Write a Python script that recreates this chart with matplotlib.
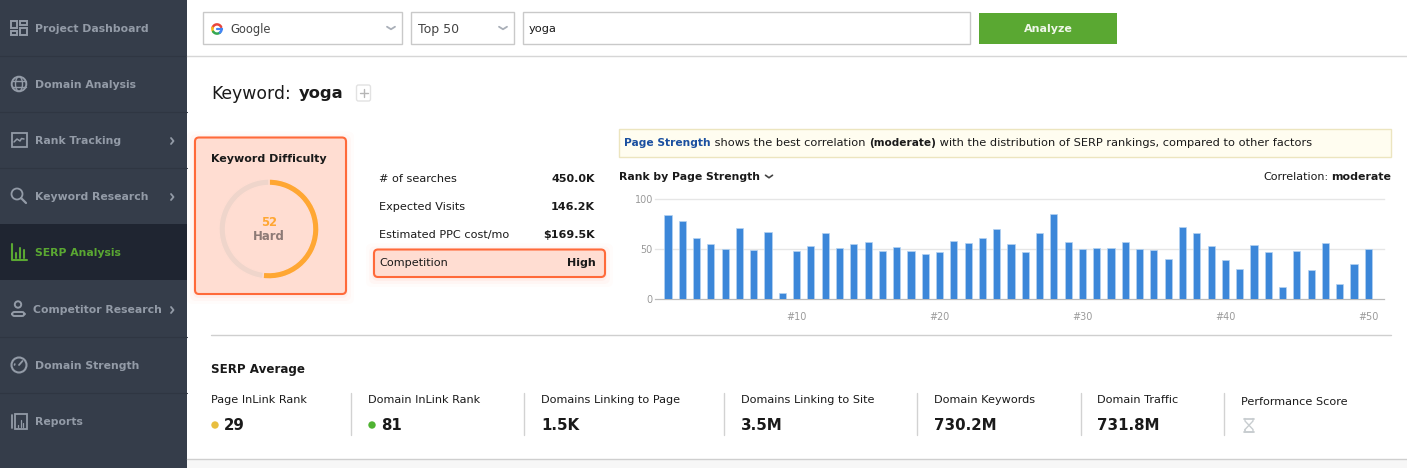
import matplotlib
matplotlib.use("Agg")
from matplotlib import pyplot as plt
from matplotlib.patches import FancyBboxPatch, Rectangle, Circle, Ellipse
import numpy as np

W, H = 1407, 468

# chart values
ranks = np.arange(1, 51)
page_strength = [84, 78, 61, 55, 50, 71, 49, 67, 6.5, 48,
                 53, 66, 51, 55, 57, 48, 52, 48, 45, 47,
                 58, 56, 61, 70, 55, 47, 66, 85, 57, 50,
                 51, 51, 57, 50, 49, 40, 72, 66, 53, 39,
                 30, 54, 47, 12, 48, 29, 56, 15, 35, 50]
x_ticks = [10, 20, 30, 40, 50]
y_ticks = [0, 50, 100]
difficulty = 52

menu_items = ["Project Dashboard", "Domain Analysis", "Rank Tracking", "Keyword Research",
              "SERP Analysis", "Competitor Research", "Domain Strength", "Reports"]
stat_names = ["# of searches", "Expected Visits", "Estimated PPC cost/mo", "Competition"]
stat_values = ["450.0K", "146.2K", "$169.5K", "High"]
metric_names = ["Page InLink Rank", "Domain InLink Rank", "Domains Linking to Page",
                "Domains Linking to Site", "Domain Keywords", "Domain Traffic", "Performance Score"]
metric_values = ["29", "81", "1.5K", "3.5M", "730.2M", "731.8M", ""]

SIDE = "#353d4a"
SIDE_DARK = "#1f2531"
SIDE_TXT = "#939ba7"
GREEN = "#5aa832"
ORANGE = "#ff6a3a"
PEACH = "#ffddd2"
INK = "#1a1a1a"

fig = plt.figure(figsize=(W / 100, H / 100), dpi=100, facecolor="white")
ui = fig.add_axes([0, 0, 1, 1])
ui.set_xlim(0, W)
ui.set_ylim(H, 0)
ui.axis("off")


def rect(x0, y0, x1, y1, fc="none", ec="none", lw=1, z=1):
    ui.add_patch(Rectangle((x0, y0), x1 - x0, y1 - y0, fc=fc, ec=ec, lw=lw, zorder=z))


def line(xs, ys, color, lw=1.2, z=5):
    ui.plot(xs, ys, color=color, lw=lw, zorder=z, solid_capstyle="round", solid_joinstyle="round")


def arc(cx, cy, r, a0, a1, color, lw=1.2):
    a = np.radians(np.linspace(a0, a1, 40))
    line(cx + r * np.cos(a), cy - r * np.sin(a), color, lw)


def txt(x, y, s, size=8, color=INK, weight="normal", ha="left", z=6):
    return ui.text(x, y - 0.7, s, fontsize=size, color=color, weight=weight, ha=ha, va="center_baseline", zorder=z)


def chevron(x, y, color, w=4, h=2.5, lw=1.3):
    line([x - w, x, x + w], [y - h / 2, y + h / 2, y - h / 2], color, lw)


def glow_box(x0, y0, x1, y1):
    for grow, a in [(8, 0.02), (5, 0.035), (2, 0.05)]:
        ui.add_patch(FancyBboxPatch((x0 - grow, y0 - grow + 2), x1 - x0 + 2 * grow, y1 - y0 + 2 * grow,
                                    boxstyle="round,pad=0,rounding_size=6", fc=ORANGE, ec="none", alpha=a, zorder=2))
    ui.add_patch(FancyBboxPatch((x0, y0), x1 - x0, y1 - y0, boxstyle="round,pad=0,rounding_size=4",
                                fc=PEACH, ec=ORANGE, lw=1.5, zorder=3))


# sidebar
rect(0, 0, 187, H, fc=SIDE)
rect(0, 224, 187, 280, fc=SIDE_DARK, z=2)
for y in [56, 112, 168, 337, 393]:
    line([0, 187], [y, y], "#2f3642", 0.8, z=2)
row_y = [29, 85, 141, 197, 253, 310, 366, 422]
for name, y in zip(menu_items, row_y):
    x = 33 if name == "Competitor Research" else 35
    c = GREEN if name == "SERP Analysis" else SIDE_TXT
    txt(x, y, name, 7.8, c, "bold")
for y in [141, 197, 310]:
    line([171, 173.5, 171], [y - 3, y, y + 3], SIDE_TXT, 1.3)

# sidebar icons
for x0, y0, x1, y1 in [(11.3, 20.7, 17.3, 28), (20, 20.7, 26.7, 25.3), (11.3, 30.7, 17.3, 35.3), (20, 28, 26.7, 35.3)]:
    rect(x0, y0, x1, y1, ec=SIDE_TXT, lw=1.4, z=5)
ui.add_patch(Circle((19, 84), 7.3, fc="none", ec=SIDE_TXT, lw=1.4, zorder=5))
ui.add_patch(Ellipse((19, 84), 7, 14.6, fc="none", ec=SIDE_TXT, lw=1, zorder=5))
line([12, 26], [81, 81], SIDE_TXT, 1)
line([12, 26], [87, 87], SIDE_TXT, 1)
rect(11.5, 133, 26.5, 147, ec=SIDE_TXT, lw=1.3, z=5)
line([14, 17, 20, 21.5, 24], [142, 139, 141, 138.5, 139], SIDE_TXT, 1.1)
ui.add_patch(Circle((17, 194), 5.5, fc="none", ec=SIDE_TXT, lw=1.3, zorder=5))
line([21, 26], [198, 203], SIDE_TXT, 1.6)
line([11.5, 11.5, 27], [244, 260, 260], GREEN, 1.5)
for x, top in [(15.5, 253), (19.5, 248), (23.5, 250)]:
    line([x, x], [top, 258], GREEN, 1.5)
ui.add_patch(Circle((18, 304.5), 3.2, fc="none", ec=SIDE_TXT, lw=1.4, zorder=5))
ui.add_patch(FancyBboxPatch((12, 312), 12.5, 4, boxstyle="round,pad=0,rounding_size=2.5",
                            fc="none", ec=SIDE_TXT, lw=1.4, zorder=5))
ui.add_patch(Circle((19, 365), 7.5, fc="none", ec=SIDE_TXT, lw=1.5, zorder=5))
line([19, 22.5], [365, 361], SIDE_TXT, 1.3)
line([14.5, 14.8], [365, 364], SIDE_TXT, 1.2)
line([19, 19], [360.5, 361], SIDE_TXT, 1.2)
rect(15, 414, 26.5, 429, ec=SIDE_TXT, lw=1.3, z=5)
line([11.5, 11.5], [415, 428], SIDE_TXT, 1.3)
for x, top in [(18, 425), (20.5, 420), (23, 423)]:
    line([x, x], [top, 427], SIDE_TXT, 0.9)

# top bar
line([187, W], [56, 56], "#d6d6d6", 1)
for x0, x1 in [(203, 402), (411, 514), (523, 970)]:
    rect(x0, 12, x1, 43.5, fc="white", ec="#c9c9c9", lw=1)
arc(217, 29, 4.6, 25, 165, "#e9443a", 1.8)
arc(217, 29, 4.6, 165, 215, "#f6bb1a", 1.8)
arc(217, 29, 4.6, 215, 310, "#33a852", 1.8)
arc(217, 29, 4.6, 310, 360, "#4285f4", 1.8)
line([217.3, 221.6], [29, 29], "#4285f4", 1.6)
txt(230, 29, "Google", 8.3, "#444444")
txt(418, 29, "Top 50", 9, "#444444")
txt(529, 29, "yoga", 8.2, INK)
chevron(391, 28, "#a9afb8")
chevron(503, 28, "#a9afb8")
rect(979, 13, 1117, 44, fc=GREEN)
txt(1048, 29, "Analyze", 8, "#eef6e8", "bold", ha="center")

# heading
txt(211, 93, "Keyword:", 12.4, INK)
txt(299, 93, "yoga", 11.8, INK, "bold")
ui.add_patch(FancyBboxPatch((356.5, 85), 14, 16, boxstyle="round,pad=0,rounding_size=2",
                            fc="white", ec="#e2e2e2", lw=1, zorder=3))
line([360, 368], [93, 93], "#b5b5b5", 1)
line([364, 364], [89, 97], "#b5b5b5", 1)

# difficulty card
glow_box(195, 137.5, 346, 294)
txt(269, 159, "Keyword Difficulty", 8, INK, "bold", ha="center")
donut = fig.add_axes([219 / W, 1 - 279 / H, 100 / W, 100 / H])
donut.pie([difficulty, 100 - difficulty], colors=["#ffa733", "#efd5cb"], startangle=90, counterclock=False,
          radius=1.0, wedgeprops={"width": 0.13, "edgecolor": PEACH, "linewidth": 1})
donut.set_xlim(-1, 1)
donut.set_ylim(-1, 1)
txt(269, 222, "52", 8.4, "#ffa733", "bold", ha="center")
txt(269, 236, "Hard", 8.4, "#8d7a76", "bold", ha="center")

# stats
glow_box(374, 249.5, 605, 277)
for name, val, y in zip(stat_names, stat_values, [179, 207, 235, 263]):
    xr = 596 if name == "Competition" else 595
    txt(379, y, name, 8.1, INK)
    txt(xr, y, val, 8, INK, "bold", ha="right")

# note above the chart
rect(619, 129, 1390.5, 156.5, fc="#fffdf0", ec="#ece5bf", lw=1)
fig.canvas.draw()
rend = fig.canvas.get_renderer()
x = 624
for s, c, w, sz in [("Page Strength", "#1a4fa0", "bold", 7.7), (" shows the best correlation ", INK, "normal", 8.2),
                    ("(moderate)", INK, "bold", 7.6),
                    (" with the distribution of SERP rankings, compared to other factors", INK, "normal", 8.18)]:
    t = txt(x, 143, s.replace(" ", "\u00a0"), sz, c, w)
    x += t.get_window_extent(rend).width

# chart header
txt(619, 177, "Rank by Page Strength", 7.8, INK, "bold")
chevron(769, 176.5, "#444444", 3.5, 2.5, 1.2)
t = txt(1391, 177, "moderate", 7.9, INK, "bold", ha="right")
txt(1391 - t.get_window_extent(rend).width - 3, 177, "Correlation:", 8, INK, ha="right")

# bar chart
ax = fig.add_axes([655 / W, 1 - 299 / H, (1384 - 655) / W, 100 / H])
ax.patch.set_alpha(0)
ax.bar(ranks, page_strength, width=0.5, color="#3c87d9", edgecolor="#b4d3f1", linewidth=0.5, zorder=3)
ax.set_xlim(0.09, 51.1)
ax.set_ylim(0, 100)
ax.set_yticks(y_ticks)
ax.set_xticks(x_ticks)
ax.set_xticklabels(["#{}".format(v) for v in x_ticks])
ax.tick_params(length=0, labelsize=6.9, labelcolor="#999999")
ax.tick_params(axis="x", pad=9)
ax.tick_params(axis="y", pad=1.5)
ax.grid(axis="y", color="#e6e6e6", lw=1, zorder=0)
ax.set_axisbelow(True)
for side in ["top", "left", "right"]:
    ax.spines[side].set_visible(False)
ax.spines["bottom"].set_color("#bbbbbb")
for g in ax.get_ygridlines():
    g.set_clip_on(False)

# serp average
line([211, 1391], [335, 335], "#cfcfcf", 1)
txt(211, 369, "SERP Average", 8.6, INK, "bold")
metric_x = [211, 368, 541, 741, 934, 1097, 1241]
value_x = [224, 381, 541, 741, 934, 1097, 1241]
for name, val, x, vx in zip(metric_names, metric_values, metric_x, value_x):
    txt(x, 402 if name == "Performance Score" else 400, name, 8.1, INK)
    txt(vx, 425, val, 10.8, INK, "bold")
for x in [351, 524, 724, 917, 1081, 1224]:
    line([x, x], [393, 435], "#d2d2d2", 1)
ui.add_patch(Circle((215, 425), 3.7, fc="#e8be3f", ec="none", zorder=5))
ui.add_patch(Circle((372, 425), 3.7, fc="#4fb332", ec="none", zorder=5))

# hourglass
hg = "#c8cdd0"
line([1244, 1254], [418.5, 418.5], hg, 1.3)
line([1244, 1254], [432, 432], hg, 1.3)
line([1245, 1245, 1253, 1253, 1245, 1245], [418.5, 421, 429.5, 432, 432, 429.5], hg, 1)
line([1253, 1253, 1245, 1245], [418.5, 421, 429.5, 432], hg, 1)

# page bottom
rect(187, 459, W, H, fc="#f7f7f7", z=1)
line([187, W], [459, 459], "#cfcfcf", 1)

fig.savefig("out.png", dpi=100, facecolor="white")
